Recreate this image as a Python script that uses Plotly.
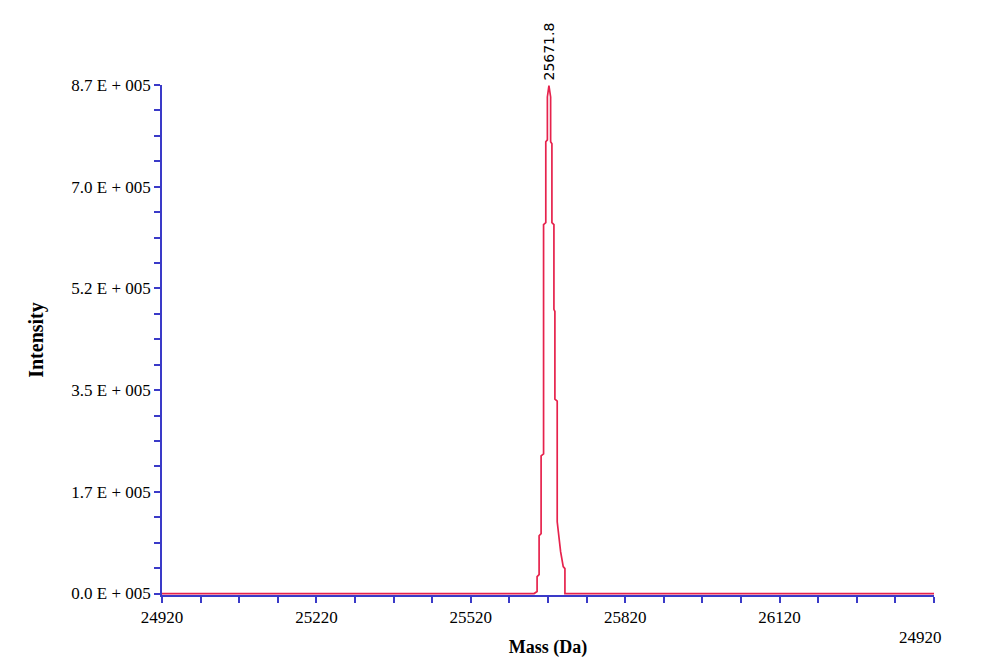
"""Deconvoluted mass spectrum: single peak at 25671.8 Da."""
import plotly.graph_objects as go

# ---------------------------------------------------------------------------
# Data
# ---------------------------------------------------------------------------
mass = [24920, 25643.0, 25648.8, 25648.8, 25652.7, 25652.7, 25656.6, 25656.6,
        25661.4, 25661.4, 25665.7, 25665.7, 25668.8, 25668.8, 25671.8,
        25675.1, 25675.1, 25677.6, 25677.6, 25681.5, 25681.5, 25683.4,
        25683.4, 25687.9, 25687.9, 25694.5, 25699.6, 25702.9, 25702.9,
        25704.8, 26420]
intensity = [0, 0, 3400, 29000, 32400, 98900, 102400, 235400,
             238800, 631200, 634600, 772800, 776200, 849500, 869000,
             849500, 772800, 769400, 634600, 631200, 486200, 482800,
             332700, 329200, 122800, 71600, 46100, 42600, 0,
             0, 0]

peak_mass = 25671.8
peak_label = "25671.8"

x_tickvals = [24920, 25220, 25520, 25820, 26120]
x_ticktext = ["24920", "25220", "25520", "25820", "26120"]
x_range = [24920, 26420]
x_end_label = "24920"

y_tickvals = [0, 174000, 348000, 522000, 696000, 870000]
y_ticktext = ["0.0 E + 005", "1.7 E + 005", "3.5 E + 005",
              "5.2 E + 005", "7.0 E + 005", "8.7 E + 005"]

AXIS_BLUE = "#3a3ac8"
LINE_RED = "#e6224c"
FONT = "Liberation Serif"

fig = go.Figure()
fig.add_trace(go.Scatter(
    x=mass, y=intensity, mode="lines",
    line={"color": LINE_RED, "width": 1.7},
    hoverinfo="x+y", showlegend=False,
))

# peak label, rotated above the apex
fig.add_annotation(
    x=peak_mass, y=869000, text=peak_label, textangle=-90,
    showarrow=False, yanchor="bottom", xanchor="center", yshift=3,
    font={"family": "DejaVu Sans", "size": 14, "color": "black"},
)
# stray end label at lower right
fig.add_annotation(
    x=1.0, xref="paper", y=0, yref="paper", text=x_end_label,
    showarrow=False, xanchor="right", yanchor="top", yshift=-31, xshift=10,
    font={"family": FONT, "size": 17, "color": "black"},
)

fig.update_xaxes(
    range=x_range, tickvals=x_tickvals, ticktext=x_ticktext,
    showgrid=False, zeroline=False, showline=True, linecolor=AXIS_BLUE, linewidth=1.5,
    ticks="outside", ticklen=6, tickcolor=AXIS_BLUE, tickwidth=1.5,
    minor={"dtick": 75, "tick0": 24920, "ticks": "outside", "ticklen": 6,
           "tickcolor": AXIS_BLUE, "tickwidth": 1.5, "showgrid": False},
    tickfont={"family": FONT, "size": 17, "color": "black"},
    title={"text": "<b>Mass (Da)</b>", "font": {"family": FONT, "size": 18, "color": "black"},
           "standoff": 14},
    layer="below traces",
)
fig.update_yaxes(
    range=[-2500, 870000], tickvals=y_tickvals, ticktext=y_ticktext,
    showgrid=False, zeroline=False, showline=True, linecolor=AXIS_BLUE, linewidth=1.5,
    ticks="outside", ticklen=6, tickcolor=AXIS_BLUE, tickwidth=1.5,
    minor={"dtick": 43500, "tick0": 0, "ticks": "outside", "ticklen": 6,
           "tickcolor": AXIS_BLUE, "tickwidth": 1.5, "showgrid": False},
    tickfont={"family": FONT, "size": 17, "color": "black"},
    title={"text": "<b>Intensity</b>", "font": {"family": FONT, "size": 20, "color": "black"},
           "standoff": 22},
    layer="below traces",
)

# the page adds an 8 px body margin, so the plot box is shifted back by that
fig.update_layout(
    width=1000, height=671,
    margin={"l": 154, "r": 74, "t": 77, "b": 84},
    plot_bgcolor="white", paper_bgcolor="white",
    showlegend=False,
)

fig.write_html("out.html")
